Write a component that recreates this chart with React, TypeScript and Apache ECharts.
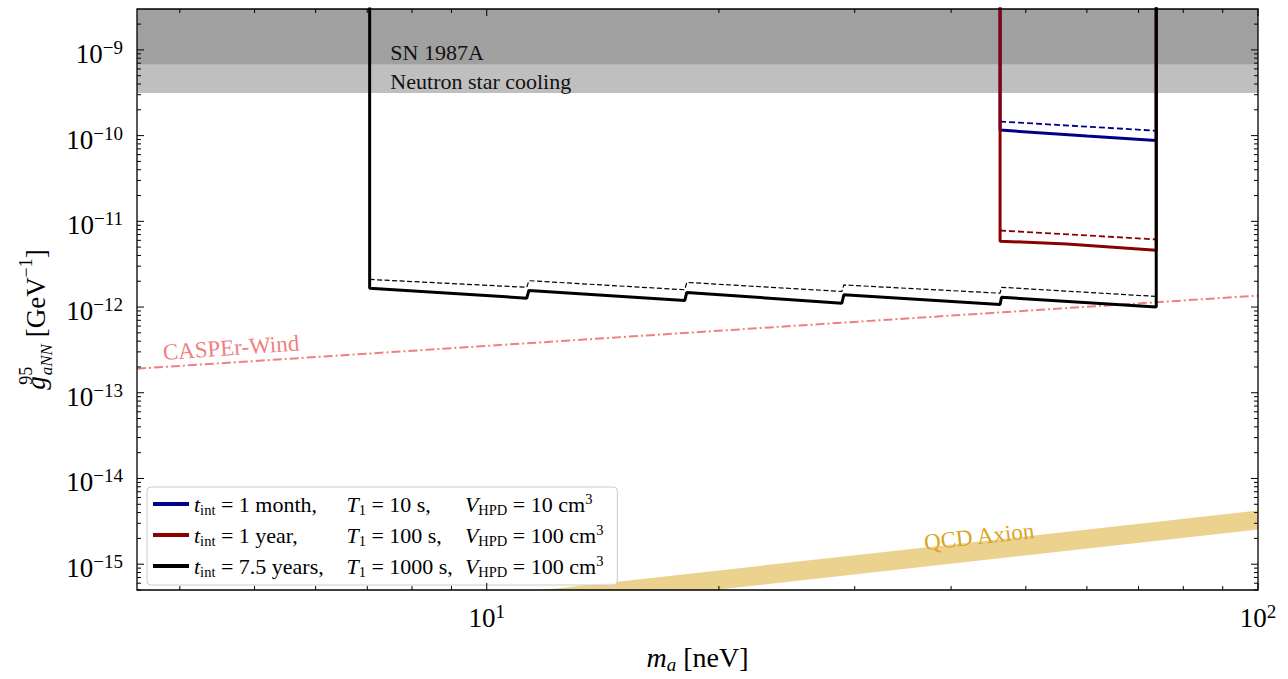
import React, { useEffect, useRef } from 'react';
import * as echarts from 'echarts';

const FONT = '"Liberation Serif", "Times New Roman", serif';

// axis ranges
const X_MIN = 3.52;
const X_MAX = 100;
const Y_MIN = 5e-16;
const Y_MAX = 3e-9;
const TOP = 1e-8; // vertical edges run off the top of the frame

// tick positions
const X_MAJOR = [10, 100];
const X_MINOR = [4, 5, 6, 7, 8, 9, 20, 30, 40, 50, 60, 70, 80, 90];
const Y_MAJOR = [1e-15, 1e-14, 1e-13, 1e-12, 1e-11, 1e-10, 1e-9];
const Y_DECADES = [1e-16, 1e-15, 1e-14, 1e-13, 1e-12, 1e-11, 1e-10, 1e-9];
const MINOR_STEPS = [2, 3, 4, 5, 6, 7, 8, 9];

// t_int = 1 month
const monthMass = [46.3, 46.3, 60.0, 73.8, 73.8];
const monthLimit = [TOP, 1.16e-10, 9.9e-11, 8.76e-11, TOP];
const monthDashMass = [46.3, 73.8];
const monthDashLimit = [1.46e-10, 1.14e-10];

// t_int = 1 year
const yearMass = [46.3, 46.3, 56.5, 73.8, 73.8];
const yearLimit = [TOP, 5.87e-12, 5.43e-12, 4.59e-12, TOP];
const yearDashMass = [46.3, 73.8];
const yearDashLimit = [7.82e-12, 6.15e-12];

// t_int = 7.5 years
const longMass = [7.05, 7.05, 11.27, 11.34, 18.06, 18.17, 28.87, 29.04, 46.3, 46.5, 73.8, 73.8];
const longLimit = [TOP, 1.66e-12, 1.27e-12, 1.56e-12, 1.19e-12, 1.48e-12, 1.11e-12, 1.39e-12, 1.07e-12, 1.3e-12, 1.0e-12, TOP];
const longDashMass = [7.05, 11.27, 11.34, 18.06, 18.17, 28.87, 29.04, 46.3, 46.5, 73.8];
const longDashLimit = [2.1e-12, 1.7e-12, 2.03e-12, 1.59e-12, 1.94e-12, 1.52e-12, 1.81e-12, 1.45e-12, 1.7e-12, 1.33e-12];

// CASPEr-Wind projection
const casperMass = [3.52, 100];
const casperLimit = [1.91e-13, 1.36e-12];

// QCD axion band
const qcdMass = [3.52, 100];
const qcdUpper = [1.49e-16, 4.23e-15];
const qcdLower = [8.9e-17, 2.54e-15];

// astrophysical bounds (drawn light first, dark on top)
const bandNames = ['Neutron star cooling', 'SN 1987A'];
const bandLow = [3.14e-10, 6.8e-10];
const bandColors = ['#bfbfbf', '#a0a0a0'];

// text annotations
const noteTexts = ['SN 1987A', 'Neutron star cooling', 'CASPEr-Wind', 'QCD Axion'];
const noteMass = [7.5, 7.5, 4.66, 43.5];
const noteCoupling = [9.4e-10, 4.24e-10, 3.4e-13, 2.1e-15];
const noteAngle = [0, 0, 4, 6.4];
const noteColors = ['#111111', '#111111', '#f08080', '#daa520'];
const noteAlign = ['left', 'left', 'center', 'center'];
const noteSize = [22, 22, 23, 23];

const SERIES_NAMES = ['month', 'year', 'long'];
const legendRows: Record<string, string> = {
  month: '{it|t}{sb|int}{c1| = 1 month,}{it|T}{sb|1}{c2| = 10 s,}{it|V}{sb|HPD}{r| = 10 cm}{sp|3}',
  year: '{it|t}{sb|int}{c1| = 1 year,}{it|T}{sb|1}{c2| = 100 s,}{it|V}{sb|HPD}{r| = 100 cm}{sp|3}',
  long: '{it|t}{sb|int}{c1| = 7.5 years,}{it|T}{sb|1}{c2| = 1000 s,}{it|V}{sb|HPD}{r| = 100 cm}{sp|3}',
};

const pairs = (xs: number[], ys: number[]) => xs.map((x, i) => [x, ys[i]]);

const powLabel = (v: number) => {
  const l = Math.log10(v);
  const e = Math.round(l);
  if (Math.abs(l - e) > 1e-6) return '';
  return `{b|10}{s|${e < 0 ? '\u2212' : ''}${Math.abs(e)}}`;
};

const tickRich = {
  b: { fontFamily: FONT, fontSize: 27, lineHeight: 32, color: '#000' },
  s: { fontFamily: FONT, fontSize: 19, lineHeight: 18, verticalAlign: 'top', color: '#000' },
};

export default function App() {
  const ref = useRef<HTMLDivElement>(null);
  useEffect(() => {
    if (!ref.current) return;
    const chart = echarts.init(ref.current, null, { renderer: 'svg' });

    const yMinor: number[] = [];
    Y_DECADES.forEach((d) => MINOR_STEPS.forEach((k) => {
      const v = k * d;
      if (v >= Y_MIN && v <= Y_MAX) yMinor.push(v);
    }));
    const xTickData = [...X_MAJOR.map((v) => [v, 1e-12, 1]), ...X_MINOR.map((v) => [v, 1e-12, 0])];
    const yTickData = [...Y_MAJOR.map((v) => [10, v, 1]), ...yMinor.map((v) => [10, v, 0])];

    const lineSeries = (name: string, xs: number[], ys: number[], color: string, width: number, type: any, z = 3) => ({
      type: 'line', name, data: pairs(xs, ys), symbol: 'none', clip: true, silent: true, z,
      itemStyle: { color },
      lineStyle: { color, width, type },
    });

    const option: any = {
      animation: false,
      grid: { left: 137, right: 30, top: 9, bottom: 82, show: false },
      xAxis: {
        type: 'log', logBase: 10, min: X_MIN, max: X_MAX, splitNumber: 1,
        axisLine: { show: false }, axisTick: { show: false }, splitLine: { show: false },
        axisLabel: { formatter: powLabel, margin: 12, rich: tickRich, showMinLabel: true, showMaxLabel: true },
        name: '{mi|m}{ms|a}{mr| [neV]}',
        nameLocation: 'middle', nameGap: 50,
        nameTextStyle: {
          rich: {
            mi: { fontFamily: FONT, fontStyle: 'italic', fontSize: 28, lineHeight: 34, color: '#000' },
            ms: { fontFamily: FONT, fontStyle: 'italic', fontSize: 19, lineHeight: 19, verticalAlign: 'bottom', color: '#000' },
            mr: { fontFamily: FONT, fontSize: 28, lineHeight: 34, color: '#000' },
          },
        },
      },
      yAxis: {
        type: 'log', logBase: 10, min: Y_MIN, max: Y_MAX, splitNumber: 6,
        axisLine: { show: false }, axisTick: { show: false }, splitLine: { show: false },
        axisLabel: { formatter: powLabel, margin: 14, rich: tickRich, padding: [8, 0, 0, 0] },
        name: '{gi|g}{g95|95}{gs|aNN}{gr| [GeV}{gp|\u22121}{gr|]}',
        nameLocation: 'middle', nameGap: 73, nameRotate: 90,
        nameTextStyle: {
          padding: [0, 40, 0, 0],
          rich: {
            gi: { fontFamily: FONT, fontStyle: 'italic', fontSize: 27, lineHeight: 38, color: '#000' },
            g95: { fontFamily: FONT, fontSize: 18, lineHeight: 19, verticalAlign: 'top', width: 1, color: '#000' },
            gs: { fontFamily: FONT, fontStyle: 'italic', fontSize: 17, lineHeight: 19, verticalAlign: 'bottom', color: '#000' },
            gr: { fontFamily: FONT, fontSize: 27, lineHeight: 38, color: '#000' },
            gp: { fontFamily: FONT, fontSize: 18, lineHeight: 19, verticalAlign: 'top', color: '#000' },
          },
        },
      },
      legend: {
        data: SERIES_NAMES,
        left: 147, top: 487, orient: 'vertical', icon: 'rect', itemWidth: 36, itemHeight: 4, itemGap: 5,
        selectedMode: false,
        backgroundColor: 'rgba(255,255,255,0.8)', borderColor: '#cccccc', borderWidth: 1, borderRadius: 4,
        padding: [4, 14, 6, 6],
        formatter: (name: string) => legendRows[name],
        textStyle: {
          rich: {
            it: { fontFamily: FONT, fontStyle: 'italic', fontSize: 22, lineHeight: 26, color: '#000' },
            sb: { fontFamily: FONT, fontSize: 14.5, lineHeight: 14, verticalAlign: 'bottom', color: '#000' },
            c1: { fontFamily: FONT, fontSize: 22, lineHeight: 26, width: 131, color: '#000' },
            c2: { fontFamily: FONT, fontSize: 22, lineHeight: 26, width: 99, color: '#000' },
            r: { fontFamily: FONT, fontSize: 22, lineHeight: 26, color: '#000' },
            sp: { fontFamily: FONT, fontSize: 14.5, lineHeight: 14, verticalAlign: 'top', color: '#000' },
          },
        },
      },
      series: [
        {
          type: 'custom', name: 'bands', silent: true, clip: true, z: 1,
          data: bandLow.map((lo, i) => [X_MIN, lo, i]), encode: { x: 0, y: 1 },
          renderItem: (params: any, api: any) => {
            const i = api.value(2);
            const p1 = api.coord([X_MIN, Y_MAX]);
            const p2 = api.coord([X_MAX, api.value(1)]);
            return {
              type: 'rect', name: bandNames[i],
              shape: { x: p1[0], y: p1[1], width: p2[0] - p1[0], height: p2[1] - p1[1] },
              style: { fill: bandColors[i] },
            };
          },
        },
        {
          type: 'custom', name: 'QCD band', silent: true, clip: true, z: 1,
          data: [[qcdMass[0], qcdUpper[0]]], encode: { x: 0, y: 1 },
          renderItem: (params: any, api: any) => {
            const pts: number[][] = [];
            qcdMass.forEach((m, i) => pts.push(api.coord([m, qcdUpper[i]])));
            for (let i = qcdMass.length - 1; i >= 0; i--) pts.push(api.coord([qcdMass[i], qcdLower[i]]));
            return { type: 'polygon', shape: { points: pts }, style: { fill: 'rgba(218,165,32,0.5)' } };
          },
        },
        lineSeries('CASPEr-Wind', casperMass, casperLimit, '#f08080', 2, [9, 3, 2, 3], 2),
        lineSeries('month', monthMass, monthLimit, '#00008b', 3, 'solid'),
        lineSeries('month dashed', monthDashMass, monthDashLimit, '#00008b', 1.8, [6, 3]),
        lineSeries('year', yearMass, yearLimit, '#8b0000', 3, 'solid'),
        lineSeries('year dashed', yearDashMass, yearDashLimit, '#8b0000', 1.8, [6, 3]),
        lineSeries('long', longMass, longLimit, '#000000', 3, 'solid'),
        lineSeries('long dashed', longDashMass, longDashLimit, '#000000', 1.2, [5, 2.5]),
        {
          type: 'custom', name: 'notes', silent: true, z: 5,
          data: noteMass.map((m, i) => [m, noteCoupling[i], i]), encode: { x: 0, y: 1 },
          renderItem: (params: any, api: any) => {
            const i = api.value(2);
            const p = api.coord([api.value(0), api.value(1)]);
            return {
              type: 'text', x: p[0], y: p[1], rotation: (noteAngle[i] * Math.PI) / 180,
              style: {
                text: noteTexts[i], fill: noteColors[i], fontFamily: FONT, fontSize: noteSize[i],
                align: noteAlign[i], verticalAlign: 'middle',
              },
            };
          },
        },
        {
          type: 'custom', name: 'x ticks', silent: true, z: 10,
          data: xTickData, encode: { x: 0, y: 1 },
          renderItem: (params: any, api: any) => {
            const cs = params.coordSys;
            const px = api.coord([api.value(0), api.value(1)])[0];
            const len = api.value(2) ? 7 : 4;
            const b = cs.y + cs.height;
            return {
              type: 'group', children: [
                { type: 'line', shape: { x1: px, y1: b, x2: px, y2: b - len }, style: { stroke: '#000', lineWidth: 1 } },
                { type: 'line', shape: { x1: px, y1: cs.y, x2: px, y2: cs.y + len }, style: { stroke: '#000', lineWidth: 1 } },
              ],
            };
          },
        },
        {
          type: 'custom', name: 'y ticks', silent: true, z: 10,
          data: yTickData, encode: { x: 0, y: 1 },
          renderItem: (params: any, api: any) => {
            const cs = params.coordSys;
            const py = api.coord([api.value(0), api.value(1)])[1];
            const len = api.value(2) ? 7 : 4;
            const r = cs.x + cs.width;
            return {
              type: 'group', children: [
                { type: 'line', shape: { x1: cs.x, y1: py, x2: cs.x + len, y2: py }, style: { stroke: '#000', lineWidth: 1 } },
                { type: 'line', shape: { x1: r, y1: py, x2: r - len, y2: py }, style: { stroke: '#000', lineWidth: 1 } },
              ],
            };
          },
        },
        {
          type: 'custom', name: 'frame', silent: true, z: 11,
          data: [[10, 1e-12]], encode: { x: 0, y: 1 },
          renderItem: (params: any) => {
            const cs = params.coordSys;
            return {
              type: 'rect', shape: { x: cs.x, y: cs.y, width: cs.width, height: cs.height },
              style: { fill: 'none', stroke: '#000', lineWidth: 1.3 },
            };
          },
        },
      ],
    };
    chart.setOption(option);
    return () => chart.dispose();
  }, []);
  return (
    <div
      ref={ref}
      style={{ position: 'absolute', left: 0, top: 0, width: 1288, height: 679, background: '#fff' }}
    />
  );
}
